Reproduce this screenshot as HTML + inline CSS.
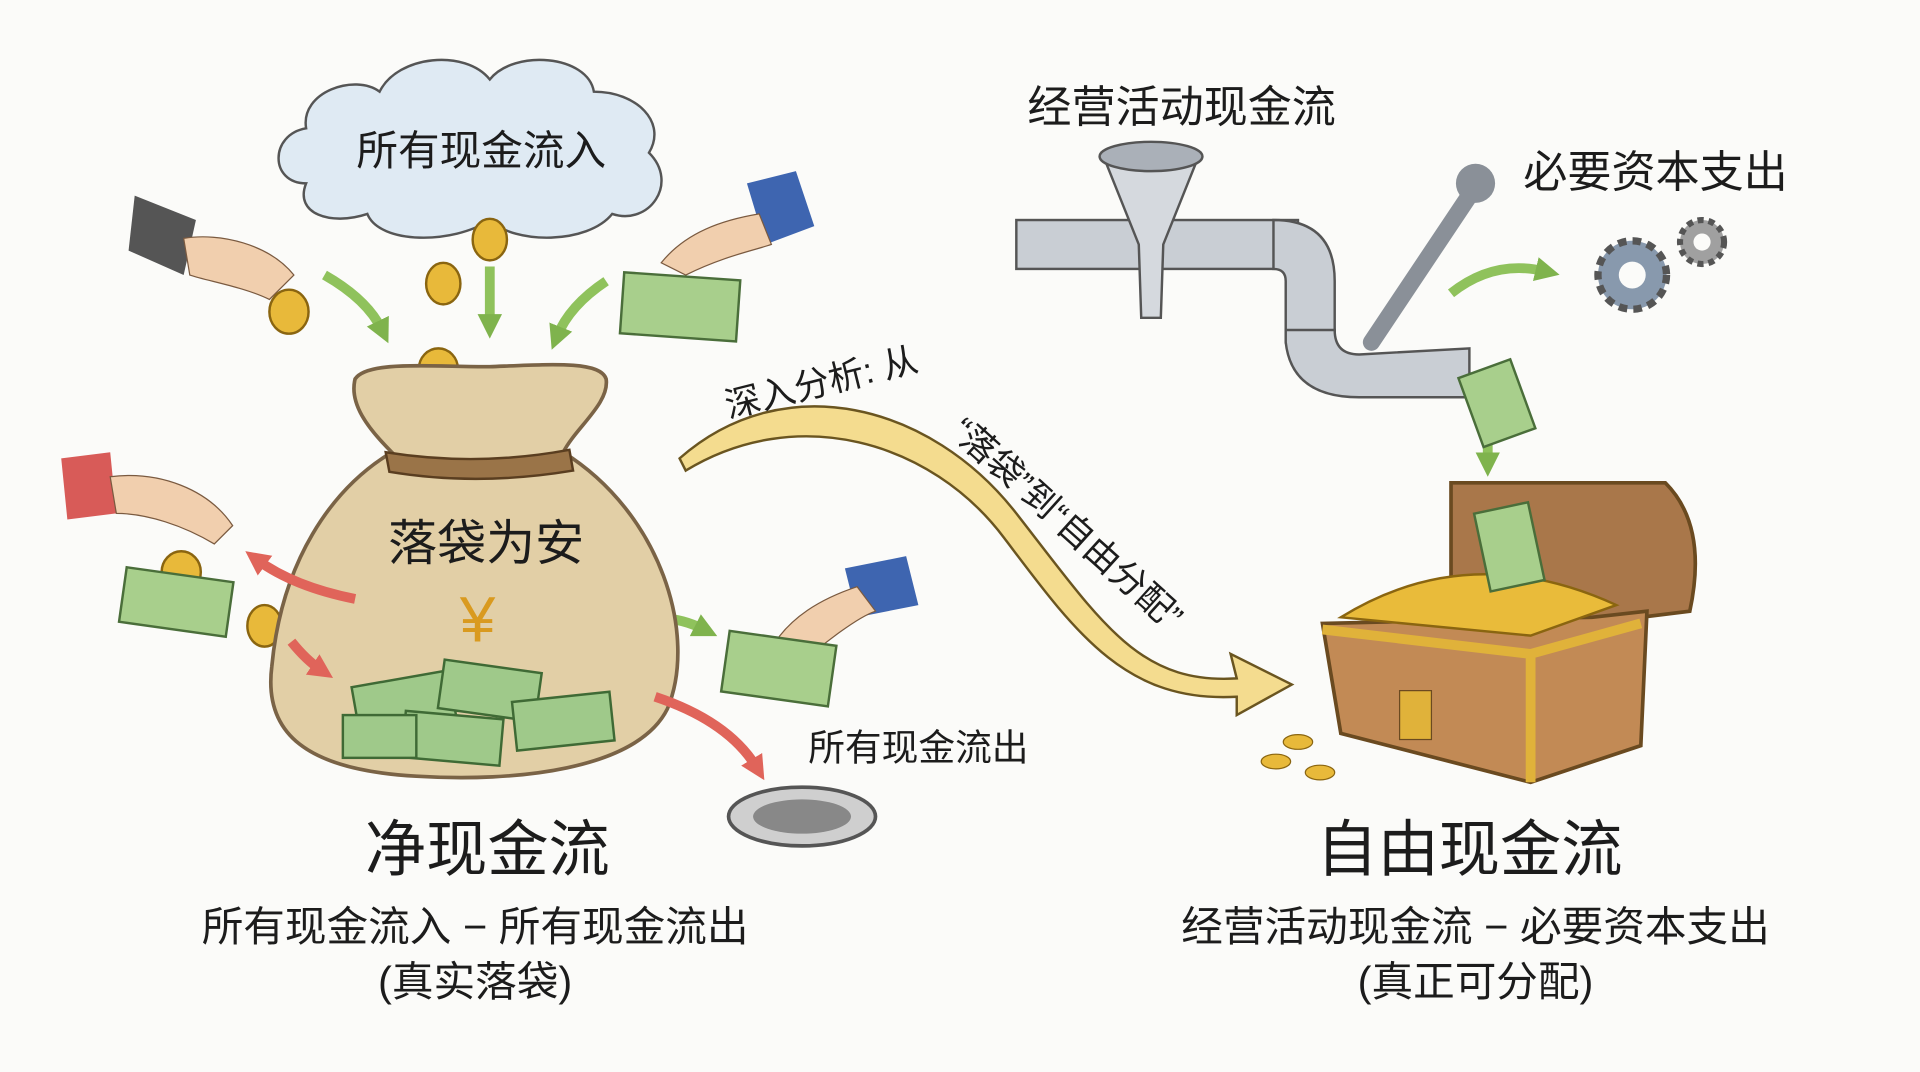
<!DOCTYPE html>
<html><head><meta charset="utf-8"><style>
html,body{margin:0;padding:0;background:#fbfbf9;}
svg{display:block}
text{font-family:"Liberation Sans","Noto Sans CJK SC",sans-serif;fill:#1c1c1c}
</style></head><body>
<svg width="1920" height="1072" viewBox="0 0 1568 877" preserveAspectRatio="none" xmlns="http://www.w3.org/2000/svg">
<defs>
<marker id="ag" markerUnits="userSpaceOnUse" markerWidth="24" markerHeight="24" refX="8" refY="12" orient="auto"><path d="M0,2 L20,12 L0,22 z" fill="#7fb34d"/></marker>
<marker id="ar" markerUnits="userSpaceOnUse" markerWidth="24" markerHeight="24" refX="8" refY="12" orient="auto"><path d="M0,2 L20,12 L0,22 z" fill="#e0645a"/></marker>
</defs>
<rect width="1568" height="877" fill="#fbfbf9"/>
<!-- cloud -->
<path d="M250,150 C220,150 220,110 250,105 C245,75 290,60 310,75 C325,45 380,40 400,65 C420,40 480,45 485,75 C520,75 545,100 530,125 C555,150 530,185 500,175 C480,200 420,200 400,180 C370,200 310,200 300,175 C270,185 240,175 250,150 z" fill="#dfeaf3" stroke="#555" stroke-width="2"/>
<text x="393" y="135" font-size="34" text-anchor="middle">所有现金流入</text>
<!-- hands top -->
<path d="M110,160 L160,180 L150,225 L105,205 z" fill="#555"/>
<path d="M150,195 C180,190 220,200 240,225 L220,245 C200,235 170,230 155,225 z" fill="#f1cfae" stroke="#7a5a40"/>
<path d="M610,150 L650,140 L665,185 L625,200 z" fill="#3e65b0"/>
<path d="M620,175 C590,180 560,190 540,215 L560,225 C590,210 615,205 630,200 z" fill="#f1cfae" stroke="#7a5a40"/>
<rect x="508" y="226" width="95" height="50" fill="#a8cf8c" stroke="#4a6e3a" stroke-width="2" transform="rotate(4 555 250)"/>
<!-- coins -->
<g fill="#e8b93a" stroke="#8a6510" stroke-width="2">
<ellipse cx="400" cy="196" rx="14" ry="17"/><ellipse cx="362" cy="232" rx="14" ry="17"/><ellipse cx="236" cy="255" rx="16" ry="18"/>
<ellipse cx="358" cy="302" rx="16" ry="17"/><ellipse cx="148" cy="468" rx="16" ry="17"/><ellipse cx="216" cy="512" rx="14" ry="17"/>
</g>
<!-- green arrows top -->
<g stroke="#8fc25c" stroke-width="8" fill="none" marker-end="url(#ag)">
<path d="M265,225 Q300,245 312,270"/><path d="M400,218 L400,265"/><path d="M495,230 Q465,250 455,275"/>
<path d="M505,520 Q535,495 575,515"/>
</g>
<!-- bag -->
<path d="M290,310 C300,295 350,300 400,300 C450,298 490,295 495,310 C498,330 470,350 460,370 C540,420 570,520 545,580 C520,630 420,640 340,635 C250,630 215,600 222,545 C230,460 270,400 320,370 C300,350 285,330 290,310 z" fill="#e2cfa6" stroke="#7a6346" stroke-width="3"/>
<path d="M315,370 Q390,382 465,368 L468,385 Q390,398 318,386 z" fill="#9a7448" stroke="#5a3e20" stroke-width="2"/>
<text x="397" y="458" font-size="40" text-anchor="middle">落袋为安</text>
<text x="390" y="525" font-size="52" text-anchor="middle" style="fill:#d99a1f">¥</text>
<g fill="#9fc98a" stroke="#3f6a35" stroke-width="2">
<rect x="290" y="555" width="80" height="40" transform="rotate(-10 330 575)"/><rect x="360" y="545" width="80" height="40" transform="rotate(8 400 565)"/>
<rect x="420" y="570" width="80" height="40" transform="rotate(-6 460 590)"/><rect x="330" y="585" width="80" height="38" transform="rotate(5 370 600)"/>
<rect x="280" y="585" width="60" height="35"/>
</g>
<!-- left hand red -->
<path d="M50,375 L90,370 L95,420 L55,425 z" fill="#d85b58"/>
<path d="M90,390 C130,385 170,400 190,430 L175,445 C150,430 120,420 95,420 z" fill="#f1cfae" stroke="#7a5a40"/>
<rect x="100" y="470" width="88" height="45" fill="#a8cf8c" stroke="#4a6e3a" stroke-width="2" transform="rotate(8 144 492)"/>
<g stroke="#e0645a" stroke-width="8" fill="none" marker-end="url(#ar)">
<path d="M290,490 Q240,480 210,458"/><path d="M238,525 Q250,540 262,548"/><path d="M535,570 Q595,590 618,628"/>
</g>
<!-- right hand -->
<path d="M690,465 L740,455 L750,495 L700,505 z" fill="#3e65b0"/>
<path d="M700,480 C670,490 645,505 630,530 L650,545 C675,525 700,505 715,500 z" fill="#f1cfae" stroke="#7a5a40"/>
<rect x="592" y="522" width="88" height="50" fill="#a8cf8c" stroke="#4a6e3a" stroke-width="2" transform="rotate(8 636 547)"/>
<!-- drain -->
<ellipse cx="655" cy="668" rx="60" ry="24" fill="#cfcfcf" stroke="#555" stroke-width="3"/>
<ellipse cx="655" cy="668" rx="40" ry="14" fill="#888"/>
<text x="750" y="622" font-size="30" text-anchor="middle">所有现金流出</text>
<!-- big yellow arrow -->
<path d="M555,375 C640,300 760,330 830,420 C900,510 930,560 1010,555 L1005,535 L1055,560 L1010,585 L1010,570 C920,575 880,520 820,440 C760,360 650,330 560,385 z" fill="#f4dc8f" stroke="#6a5520" stroke-width="2"/>
<text font-size="29" transform="translate(595,342) rotate(-14)">深入分析: 从</text>
<text font-size="29" transform="translate(775,355) rotate(42)">“落袋”到“自由分配”</text>
<!-- pipe -->
<rect x="830" y="180" width="230" height="40" fill="#c9ced4" stroke="#555" stroke-width="2"/>
<path d="M1040,180 Q1090,180 1090,230 L1090,280 L1050,280 L1050,230 Q1050,220 1040,220 z" fill="#c9ced4" stroke="#555" stroke-width="2"/>
<path d="M1050,270 L1090,270 Q1090,290 1110,290 L1200,285 L1200,325 L1110,325 Q1055,325 1050,280 z" fill="#c9ced4" stroke="#555" stroke-width="2"/>
<path d="M900,125 L980,125 L950,200 L948,260 L932,260 L930,200 z" fill="#d5d9de" stroke="#555" stroke-width="2"/>
<ellipse cx="940" cy="128" rx="42" ry="12" fill="#aab0b8" stroke="#555" stroke-width="2"/>
<text x="965" y="100" font-size="36" text-anchor="middle">经营活动现金流</text>
<text x="1352" y="153" font-size="36" text-anchor="middle">必要资本支出</text>
<!-- wrench -->
<path d="M1200,160 L1120,280" stroke="#8a9098" stroke-width="14" stroke-linecap="round"/>
<circle cx="1205" cy="150" r="16" fill="#8a9098"/>
<g stroke="#8fc25c" stroke-width="8" fill="none" marker-end="url(#ag)"><path d="M1185,240 Q1220,212 1262,222"/><path d="M1215,345 L1215,378"/></g>
<!-- gears -->
<circle cx="1333" cy="225" r="28" fill="#8899ad" stroke="#555" stroke-width="6" stroke-dasharray="7 5"/><circle cx="1333" cy="225" r="11" fill="#fbfbf9"/>
<circle cx="1390" cy="198" r="18" fill="#a0a0a0" stroke="#555" stroke-width="5" stroke-dasharray="5 4"/><circle cx="1390" cy="198" r="7" fill="#fbfbf9"/>
<rect x="1200" y="300" width="45" height="60" fill="#a8cf8c" stroke="#4a6e3a" stroke-width="2" transform="rotate(-20 1222 330)"/>
<!-- chest -->
<path d="M1185,395 L1360,395 Q1395,430 1380,500 L1300,510 L1185,500 z" fill="#a9774a" stroke="#6a4a20" stroke-width="3"/>
<path d="M1080,510 L1300,505 L1345,500 L1340,610 L1250,640 L1095,600 z" fill="#c28a55" stroke="#6a4a20" stroke-width="3"/>
<path d="M1095,505 Q1200,440 1320,495 L1250,520 z" fill="#e9bb3a" stroke="#8a6510" stroke-width="2"/>
<rect x="1210" y="415" width="45" height="65" fill="#a8cf8c" stroke="#4a6e3a" stroke-width="2" transform="rotate(-12 1232 447)"/>
<rect x="1143" y="565" width="26" height="40" fill="#e0b23a" stroke="#6a4a20"/>
<path d="M1080,515 L1250,535 L1250,640 M1250,535 L1340,510" stroke="#e0b23a" stroke-width="8" fill="none"/>
<g fill="#e8b93a" stroke="#8a6510"><ellipse cx="1060" cy="607" rx="12" ry="6"/><ellipse cx="1042" cy="623" rx="12" ry="6"/><ellipse cx="1078" cy="632" rx="12" ry="6"/></g>
<!-- bottom texts -->
<text x="398" y="712" font-size="50" text-anchor="middle">净现金流</text>
<text x="388" y="770" font-size="34" text-anchor="middle">所有现金流入 − 所有现金流出</text>
<text x="388" y="815" font-size="34" text-anchor="middle">(真实落袋)</text>
<text x="1200" y="712" font-size="50" text-anchor="middle">自由现金流</text>
<text x="1205" y="770" font-size="34" text-anchor="middle">经营活动现金流 − 必要资本支出</text>
<text x="1205" y="815" font-size="34" text-anchor="middle">(真正可分配)</text>
</svg>
</body></html>
